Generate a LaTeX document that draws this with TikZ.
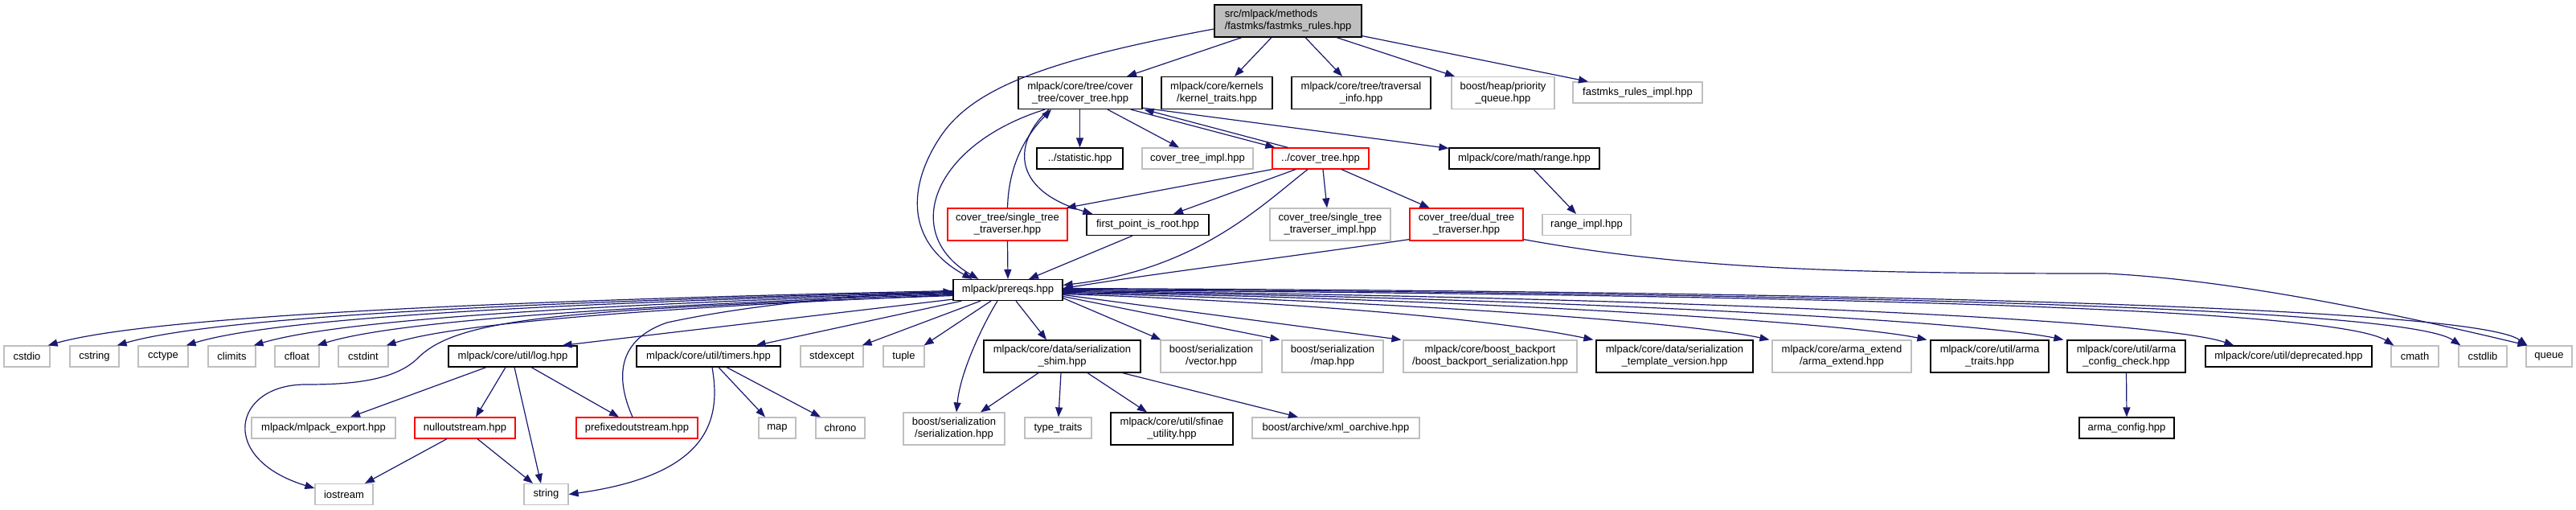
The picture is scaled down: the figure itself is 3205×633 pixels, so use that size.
\documentclass[tikz,border=0pt]{standalone}
\usepackage{fontspec}
\setmainfont{Liberation Sans}
\usetikzlibrary{arrows.meta,calc}
\definecolor{edgec}{HTML}{191970}
\definecolor{greyb}{HTML}{BFBFBF}
\definecolor{redb}{HTML}{FF0000}
\begin{document}
\begin{tikzpicture}[x=1pt,y=-1pt,
 nd/.style={draw, line width=1.2pt, inner sep=0pt, align=center, font=\fontsize{13}{15}\selectfont, minimum height=26},
 bk/.style={nd, draw=black},
 gr/.style={nd, draw=greyb},
 rd/.style={nd, draw=redb},
 two/.style={minimum height=40},
 ed/.style={draw=edgec, line width=1.2pt, -{Triangle[length=12pt,width=9pt]}}]
\useasboundingbox (0,0) rectangle (3205,633);
% row 0-2
\node[bk,fill=greyb,two,minimum width=183,align=left] (root) at (1602.5,26) {src/mlpack/methods\\/fastmks/fastmks\_rules.hpp};
\node[bk,two,minimum width=154] (CT) at (1344,115.5) {mlpack/core/tree/cover\\\_tree/cover\_tree.hpp};
\node[bk,two,minimum width=138] (kern) at (1514,115.5) {mlpack/core/kernels\\/kernel\_traits.hpp};
\node[bk,two,minimum width=173] (trav) at (1693.5,115.5) {mlpack/core/tree/traversal\\\_info.hpp};
\node[gr,two,minimum width=128] (prio) at (1870,115.5) {boost/heap/priority\\\_queue.hpp};
\node[gr,minimum width=161] (fimpl) at (2037.5,115) {fastmks\_rules\_impl.hpp};
\node[bk,minimum width=107] (stat) at (1343.5,197) {../statistic.hpp};
\node[gr,minimum width=138] (ctimpl) at (1490,197) {cover\_tree\_impl.hpp};
\node[rd,minimum width=120] (CTR) at (1643,197) {../cover\_tree.hpp};
\node[bk,minimum width=187] (range) at (1896.5,197) {mlpack/core/math/range.hpp};
\node[rd,two,minimum width=149] (STT) at (1253.5,279) {cover\_tree/single\_tree\\\_traverser.hpp};
\node[bk,minimum width=152] (FPR) at (1428,279.5) {first\_point\_is\_root.hpp};
\node[gr,two,minimum width=150] (STTi) at (1655,279) {cover\_tree/single\_tree\\\_traverser\_impl.hpp};
\node[rd,two,minimum width=141] (DTT) at (1824.5,279) {cover\_tree/dual\_tree\\\_traverser.hpp};
\node[gr,minimum width=110] (rimpl) at (1974,279.5) {range\_impl.hpp};
\node[bk,minimum width=136] (pre) at (1254,360.5) {mlpack/prereqs.hpp};
% row 3
\node[gr,minimum width=57] (cstdio) at (33.5,443) {cstdio};
\node[gr,minimum width=61] (cstring) at (117.5,443) {cstring};
\node[gr,minimum width=62] (cctype) at (203,443) {cctype};
\node[gr,minimum width=59] (climits) at (288.5,443) {climits};
\node[gr,minimum width=55] (cfloat) at (369.5,443) {cfloat};
\node[gr,minimum width=62] (cstdint) at (452,443) {cstdint};
\node[bk,minimum width=160] (log) at (638,443) {mlpack/core/util/log.hpp};
\node[bk,minimum width=179] (timers) at (881.5,443) {mlpack/core/util/timers.hpp};
\node[gr,minimum width=78] (stdexc) at (1035,443) {stdexcept};
\node[gr,minimum width=51] (tuple) at (1124.5,443) {tuple};
\node[bk,two,minimum width=195] (shim) at (1321.5,443) {mlpack/core/data/serialization\\\_shim.hpp};
\node[gr,two,minimum width=126] (vec) at (1507,443) {boost/serialization\\/vector.hpp};
\node[gr,two,minimum width=126] (bmap) at (1658,443) {boost/serialization\\/map.hpp};
\node[gr,two,minimum width=216] (bport) at (1854,443) {mlpack/core/boost\_backport\\/boost\_backport\_serialization.hpp};
\node[bk,two,minimum width=195] (tver) at (2083.5,443) {mlpack/core/data/serialization\\\_template\_version.hpp};
\node[gr,two,minimum width=173] (aext) at (2291.5,443) {mlpack/core/arma\_extend\\/arma\_extend.hpp};
\node[bk,two,minimum width=147] (atraits) at (2475.5,443) {mlpack/core/util/arma\\\_traits.hpp};
\node[bk,two,minimum width=147] (acc) at (2645.5,443) {mlpack/core/util/arma\\\_config\_check.hpp};
\node[bk,minimum width=207] (depr) at (2847.5,443) {mlpack/core/util/deprecated.hpp};
\node[gr,minimum width=59] (cmath) at (3004.5,443) {cmath};
\node[gr,minimum width=60] (cstdlib) at (3089,443) {cstdlib};
\node[gr,minimum width=57] (queue) at (3171.5,443) {queue};
% row 4
\node[gr,minimum width=179] (export) at (402.5,532) {mlpack/mlpack\_export.hpp};
\node[rd,minimum width=125] (nullout) at (578.5,532) {nulloutstream.hpp};
\node[rd,minimum width=151] (prefixed) at (792.5,532) {prefixedoutstream.hpp};
\node[gr,minimum width=46] (map) at (967,532) {map};
\node[gr,minimum width=61] (chrono) at (1045.5,532) {chrono};
\node[gr,two,minimum width=126] (bser) at (1187,533) {boost/serialization\\/serialization.hpp};
\node[gr,minimum width=83] (ttraits) at (1316.5,532) {type\_traits};
\node[bk,two,minimum width=152] (sfinae) at (1458,533) {mlpack/core/util/sfinae\\\_utility.hpp};
\node[gr,minimum width=208] (xml) at (1662,532) {boost/archive/xml\_oarchive.hpp};
\node[bk,minimum width=118] (aconf) at (2646,532) {arma\_config.hpp};
% row 5
\node[gr,minimum width=72] (iostream) at (428,614.5) {iostream};
\node[gr,minimum width=55] (string) at (679.5,614.5) {string};
% edges from root
\draw[ed] ($(root.south)+(-57.5,0)$) -- ($(CT.north)+(58,0)$);
\draw[ed] ($(root.south)+(-20.5,0)$) -- ($(kern.north)+(22,0)$);
\draw[ed] ($(root.south)+(21.5,0)$) -- ($(trav.north)+(-23.5,0)$);
\draw[ed] ($(root.south)+(60.5,0)$) -- ($(prio.north)+(-60,0)$);
\draw[ed] ($(root.south east)+(0,-2)$) -- ($(fimpl.north)+(-61.5,0)$);
\draw[ed] ($(root.west)+(0,10)$) .. controls (1300,75) and (1210,110) .. (1170,170) .. controls (1130,230) and (1125,300) .. ($(pre.north west)+(24,0)$);
% edges from CT
\draw[ed] (stat.north |- CT.south) -- (stat.north);
\draw[ed] ($(CT.south)+(34,0)$) -- ($(ctimpl.north)+(-23,0)$);
\draw[ed] ($(CT.south)+(63,0)$) -- ($(CTR.north west)+(4,0)$);
\draw[ed] ($(CT.south east)+(0,-2)$) -- ($(range.north west)+(0,1)$);
\draw[ed] ($(CT.south)+(-44,0)$) .. controls (1160,180) and (1120,290) .. ($(pre.north west)+(32,0)$);
\draw[ed] ($(CT.south)+(-39,0)$) .. controls (1262,175) and (1255,235) .. ($(FPR.north west)+(8,0)$);
% edges from CTR
\draw[ed] ($(CTR.north west)+(20,0)$) -- ($(CT.south east)+(2,0)$);
\draw[ed] (CTR.south west) -- ($(STT.north east)+(-2,0)$);
\draw[ed] ($(CTR.south)+(-31,0)$) -- ($(FPR.north)+(32,0)$);
\draw[ed] ($(CTR.south)+(3,0)$) -- ($(STTi.north)+(-4,0)$);
\draw[ed] ($(CTR.south)+(26,0)$) -- ($(DTT.north)+(-46,0)$);
\draw[ed] ($(CTR.south)+(-16,0)$) .. controls (1570,255) and (1490,335) .. ($(pre.east)+(0,-6)$);
% STT, FPR, DTT, range
\draw[ed] (STT.north) .. controls (1255,200) and (1280,165) .. ($(CT.south)+(-36,0)$);
\draw[ed] (STT.south) -- (pre.north);
\draw[ed] ($(FPR.south)+(-19,0)$) -- ($(pre.north)+(26,0)$);
\draw[ed] ($(DTT.south west)+(0,-2)$) .. controls (1600,320) and (1450,338) .. ($(pre.east)+(0,-2)$);
\draw[ed] ($(DTT.south east)+(0,-2)$) .. controls (2100,335) and (2300,340) .. (2620,340) .. controls (2780,348) and (2980,390) .. ($(queue.north west)+(2,0)$);
\draw[ed] ($(range.south)+(11.5,0)$) -- ($(rimpl.north)+(-13,0)$);
% prereqs to the left
\draw[ed] ($(pre.west)+(0,1)$) .. controls (700,372) and (200,390) .. ($(cstdio.north east)+(-3,0)$);
\draw[ed] ($(pre.west)+(0,2)$) .. controls (750,373) and (280,390) .. ($(cstring.north east)+(-3,0)$);
\draw[ed] ($(pre.west)+(0,3)$) .. controls (800,374) and (360,390) .. ($(cctype.north east)+(-3,0)$);
\draw[ed] ($(pre.west)+(0,4)$) .. controls (850,375) and (440,392) .. ($(climits.north east)+(-3,0)$);
\draw[ed] ($(pre.west)+(0,5)$) .. controls (900,376) and (510,393) .. ($(cfloat.north east)+(-3,0)$);
\draw[ed] ($(pre.west)+(0,6)$) .. controls (950,377) and (590,395) .. ($(cstdint.north east)+(-3,0)$);
\draw[ed] ($(pre.west)+(0,7)$) .. controls (700,385) and (570,395) .. (520,445) .. controls (490,475) and (430,478) .. (380,478) .. controls (290,478) and (270,570) .. ($(iostream.west)+(0,-7.5)$);
\draw[ed] ($(pre.south west)+(0,-2)$) -- ($(log.north east)+(-19,0)$);
\draw[ed] ($(pre.south west)+(11,0)$) -- ($(timers.north east)+(-31,0)$);
\draw[ed] ($(pre.south)+(-34,0)$) -- ($(stdexc.north east)+(-2,0)$);
\draw[ed] ($(pre.south)+(-21,0)$) -- ($(tuple.north east)+(-1,0)$);
\draw[ed] ($(pre.south)+(-13,0)$) .. controls (1225,400) and (1195,460) .. ($(bser.north)+(3,0)$);
\draw[ed] ($(pre.south)+(10,0)$) -- ($(shim.north)+(-19.5,0)$);
% prereqs to the right
\draw[ed] ($(pre.east)+(0,10)$) -- ($(vec.north west)+(1,0)$);
\draw[ed] ($(pre.east)+(0,8)$) -- ($(bmap.north west)+(-2,0)$);
\draw[ed] ($(pre.east)+(0,6)$) -- ($(bport.north west)+(-2,0)$);
\draw[ed] ($(pre.east)+(0,5)$) .. controls (1600,375) and (1850,395) .. ($(tver.north west)+(-3,0)$);
\draw[ed] ($(pre.east)+(0,4)$) .. controls (1700,372) and (2100,400) .. ($(aext.north west)+(-3,0)$);
\draw[ed] ($(pre.east)+(0,3)$) .. controls (1800,370) and (2290,400) .. ($(atraits.north west)+(-4,0)$);
\draw[ed] ($(pre.east)+(0,2)$) .. controls (1900,369) and (2450,398) .. ($(acc.north west)+(-4,0)$);
\draw[ed] ($(pre.east)+(0,1)$) .. controls (2000,368) and (2680,395) .. ($(depr.north west)+(36,0)$);
\draw[ed] ($(pre.east)+(0,0)$) .. controls (2150,366) and (2900,380) .. ($(cmath.north west)+(4,0)$);
\draw[ed] ($(pre.east)+(0,-1)$) .. controls (2200,364) and (2990,380) .. ($(cstdlib.north west)+(3,0)$);
\draw[ed] ($(pre.east)+(0,-2)$) .. controls (2250,362) and (3075,380) .. ($(queue.north west)+(2,0)$);
% log, nullout, prefixed, timers
\draw[ed] ($(log.south)+(-33,0)$) -- ($(export.north)+(33.5,0)$);
\draw[ed] ($(log.south)+(-9,0)$) -- ($(nullout.north)+(13.5,0)$);
\draw[ed] ($(log.south)+(2,0)$) -- ($(string.north)+(-6.5,0)$);
\draw[ed] ($(log.south)+(23,0)$) -- ($(prefixed.north)+(-22.5,0)$);
\draw[ed] ($(nullout.south)+(-22.5,0)$) -- ($(iostream.north)+(26,0)$);
\draw[ed] ($(nullout.south)+(15.5,0)$) -- ($(string.north)+(-16.5,0)$);
\draw[ed] ($(prefixed.north)+(-5.5,0)$) .. controls (770,480) and (760,425) .. (830,401) .. controls (950,375) and (1100,365) .. ($(pre.west)+(0,2)$);
\draw[ed] ($(timers.south)+(12.5,0)$) -- ($(map.north)+(-15,0)$);
\draw[ed] ($(timers.south)+(22.5,0)$) -- ($(chrono.north)+(-24.5,0)$);
\draw[ed] ($(timers.south)+(4.5,0)$) .. controls (897,520) and (885,590) .. (string.east);
% shim
\draw[ed] ($(shim.south)+(-29.5,0)$) -- ($(bser.north)+(33,0)$);
\draw[ed] ($(shim.south)+(-1.5,0)$) -- ($(ttraits.north)+(0.5,0)$);
\draw[ed] ($(shim.south)+(31.5,0)$) -- ($(sfinae.north)+(-31,0)$);
\draw[ed] ($(shim.south east)+(-23,0)$) -- ($(xml.north)+(-47,0)$);
\draw[ed] (acc.south) -- (aconf.north);
\end{tikzpicture}
\end{document}
